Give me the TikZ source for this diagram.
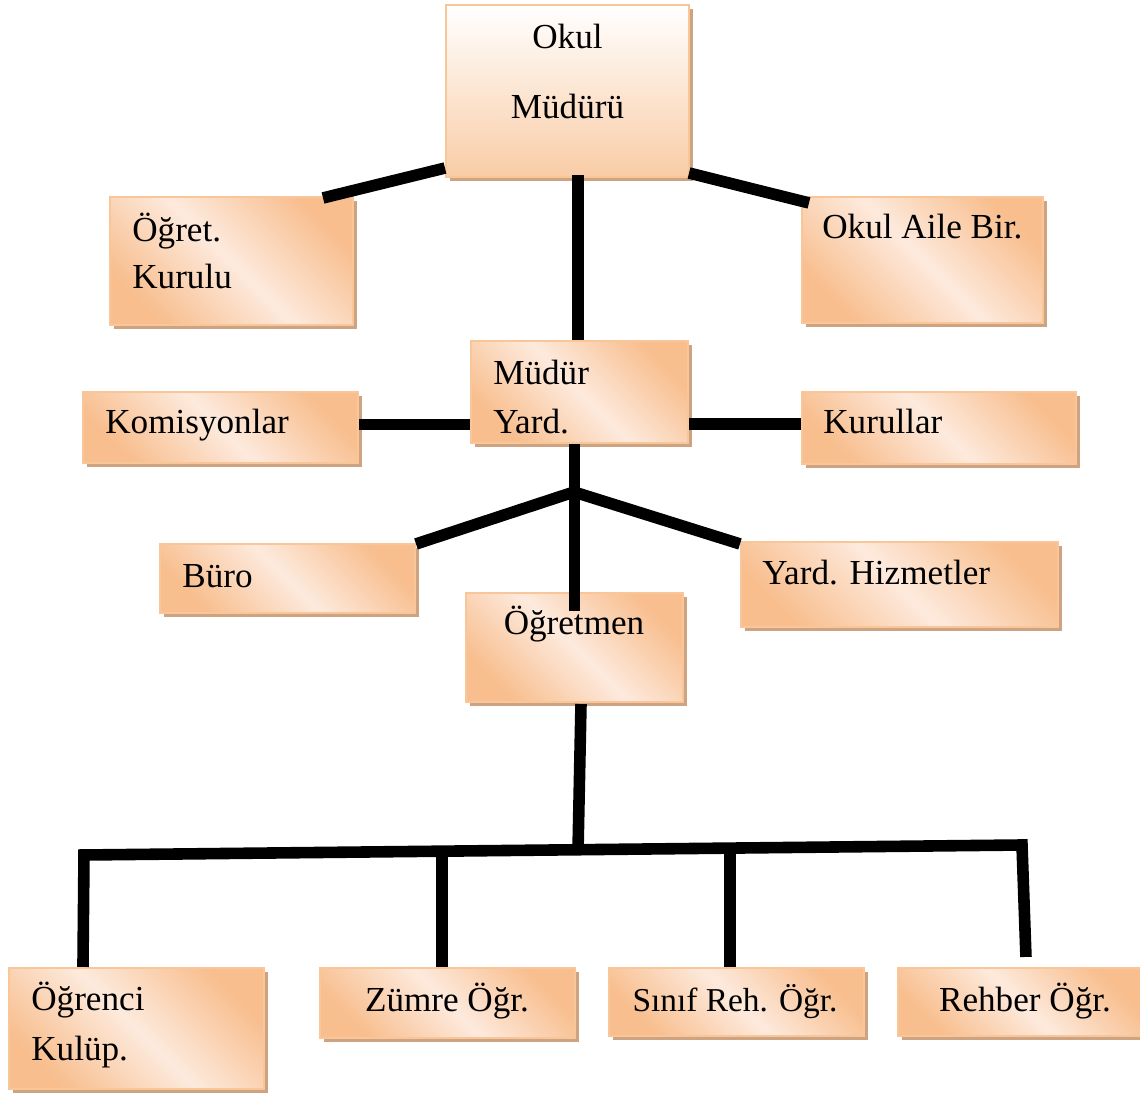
\documentclass[tikz,border=0pt]{standalone}
\usepackage{fontspec}
\setmainfont{Liberation Serif}
\usetikzlibrary{calc,shadows}

\definecolor{boxorange}{RGB}{248,190,142}
\definecolor{boxlight}{RGB}{253,234,221}
\definecolor{boxline}{RGB}{249,198,154}
\definecolor{boxshadow}{RGB}{205,163,130}
\definecolor{topbottom}{RGB}{249,204,166}

\tikzset{
  box/.style={draw=boxline, line width=1.2pt, inner sep=0pt,
    top color=boxorange, bottom color=boxorange, middle color=boxlight,
    shading angle=-45,
    drop shadow={shadow xshift=0.08cm, shadow yshift=-0.08cm, fill=boxshadow, opacity=1}},
  topbox/.style={draw=boxline, line width=1.2pt, inner sep=0pt,
    top color=white, bottom color=topbottom,
    drop shadow={shadow xshift=0.08cm, shadow yshift=-0.08cm, fill=boxshadow, opacity=1}},
  conn/.style={line width=6.6pt, black},
  lbl/.style={inner sep=0pt, font=\fontsize{20}{28.3}\selectfont, align=left},
}

\begin{document}
\begin{tikzpicture}[x=0.02cm,y=-0.02cm]
\useasboundingbox (0,0) rectangle (1140,1094);

% boxes
\node[topbox, minimum width=4.86cm, minimum height=3.44cm] (mudur) at (567.5,91) {};
\node[box, minimum width=4.86cm, minimum height=2.56cm] (ogret) at (231.5,261) {};
\node[box, minimum width=4.82cm, minimum height=2.52cm] (aile) at (922.5,260) {};
\node[box, minimum width=4.34cm, minimum height=2.04cm] (yard) at (579.5,392) {};
\node[box, minimum width=5.50cm, minimum height=1.42cm] (komis) at (220.5,427.5) {};
\node[box, minimum width=5.48cm, minimum height=1.44cm] (kurul) at (939,428) {};
\node[box, minimum width=5.10cm, minimum height=1.38cm] (buro) at (287.5,578.5) {};
\node[box, minimum width=6.34cm, minimum height=1.70cm] (hizmet) at (899.5,584.5) {};
\node[box, minimum width=4.34cm, minimum height=2.18cm] (ogretmen) at (574.5,647.5) {};
\node[box, minimum width=5.10cm, minimum height=2.42cm] (ogrenci) at (136.5,1028.5) {};
\node[box, minimum width=5.10cm, minimum height=1.40cm] (zumre) at (447.5,1003) {};
\node[box, minimum width=5.10cm, minimum height=1.36cm] (sinif) at (736.5,1002) {};
\node[box, minimum width=4.88cm, minimum height=1.36cm] (rehber) at (1020,1002) {};

% connectors
\coordinate (j1) at (574,492);
\coordinate (j2) at (578,851);
\coordinate (b1) at (84,855);
\coordinate (b4) at (1022,845);
\draw[conn] ($(mudur.south west)+(0,-10)$) -- ($(ogret.north east)+(-31,2)$);
\draw[conn] ($(mudur.south east)+(-1,-5)$) -- ($(aile.north west)+(8,7)$);
\draw[conn] ($(mudur.south)+(10.5,-3)$) -- ($(yard.north)+(-1.5,0)$);
\draw[conn] ($(komis.east)+(0,-3)$) -- ($(komis.east -| yard.west)+(0,-3)$);
\draw[conn] ($(yard.east)+(0,32)$) -- ($(yard.east -| kurul.west)+(0,32)$);
\draw[conn] (yard.south -| ogretmen.north) -- ($(ogretmen.north)+(0,19)$);
\draw[conn] (j1) -- ($(buro.north east)+(0,1)$);
\draw[conn] (j1) -- ($(hizmet.north west)+(0,3)$);
\draw[conn] ($(ogretmen.south)+(6.5,1)$) -- (j2);
\draw[conn] ($(ogrenci.north west)+(75,0)$) -- (b1) -- (b4) -- ($(rehber.north west)+(129,-10)$);
\draw[conn] ($(zumre.north)+(-5.5,0)$) -- ($(zumre.north)+(-5.5,-116)$);
\draw[conn] ($(sinif.north)+(-6.5,0)$) -- ($(sinif.north)+(-6.5,-118)$);

% texts
\node[lbl, align=center, anchor=base, font=\fontsize{20}{40.3}\selectfont] (mudurT) at (567.5,119) {Okul\\Müdürü};
\node[lbl, anchor=base west, font=\fontsize{20}{27.2}\selectfont] (ogretT) at (132,289) {Öğret.\\Kurulu};
\node[lbl, anchor=base west] (aileT) at (822,239) {Okul Aile Bir.};
\node[lbl, anchor=base west] (yardT) at (493,434) {Müdür\\Yard.};
\node[lbl, anchor=base west] (komisT) at (105,434) {Komisyonlar};
\node[lbl, anchor=base west] (kurulT) at (823,434) {Kurullar};
\node[lbl, anchor=base west] (buroT) at (182,588) {Büro};
\node[lbl, anchor=base west] (hizmetT) at (762,585) {Yard. Hizmetler};
\node[lbl, anchor=base] (ogretmenT) at (574,635) {Öğretmen};
\node[lbl, anchor=base west] (ogrenciT) at (31,1060) {Öğrenci\\Kulüp.};
\node[lbl, anchor=base] (zumreT) at (447,1011) {Zümre Öğr.};
\node[lbl, anchor=base, font=\fontsize{19}{26}\selectfont] (sinifT) at (735,1011) {Sınıf Reh. Öğr.};
\node[lbl, anchor=base] (rehberT) at (1025,1011) {Rehber Öğr.};
\end{tikzpicture}
\end{document}
